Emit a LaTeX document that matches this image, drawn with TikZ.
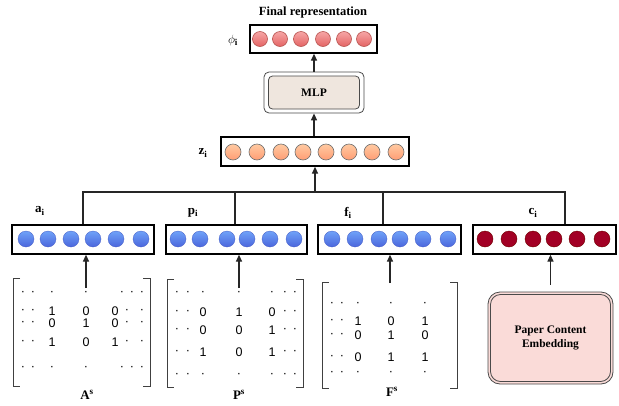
\documentclass[tikz,border=0pt]{standalone}
\usepackage{fontspec}
\setmainfont{Liberation Serif}
\newfontfamily\matfont{Liberation Sans}
\usetikzlibrary{arrows.meta}
\definecolor{phitop}{HTML}{F6A6A6}
\definecolor{phibot}{HTML}{E46464}
\definecolor{phiedge}{HTML}{B85450}
\definecolor{ztop}{HTML}{FFCAA2}
\definecolor{zbot}{HTML}{FF9D74}
\definecolor{zedge}{HTML}{6E6E6E}
\definecolor{btop}{HTML}{6FA2F8}
\definecolor{bbot}{HTML}{4B66DC}
\definecolor{cfill}{HTML}{A20025}
\definecolor{cedge}{HTML}{6F0000}
\definecolor{mlpfill}{HTML}{EFE6DE}
\definecolor{pcefill}{HTML}{FADBD8}
\definecolor{edgegrey}{HTML}{4A4A4A}
\tikzset{
  vecbox/.style={draw=black, line width=1.3pt, fill=white, inner sep=0pt},
  phic/.style={circle, inner sep=0pt, minimum size=15pt, top color=phitop, bottom color=phibot, draw=phiedge, line width=0.6pt},
  zc/.style={circle, inner sep=0pt, minimum size=16pt, top color=ztop, bottom color=zbot, draw=zedge, line width=0.6pt},
  bc/.style={circle, inner sep=0pt, minimum size=16pt, top color=btop, bottom color=bbot, draw=bbot!90!black, line width=0.3pt},
  cc/.style={circle, inner sep=0pt, minimum size=16pt, fill=cfill, draw=cedge, line width=0.4pt},
  conn/.style={line width=1.3pt, draw=black!85},
  arr/.style={line width=1.3pt, draw=black!85, -{Triangle[length=7pt,width=6pt]}},
  lab/.style={inner sep=0pt, font=\bfseries\fontsize{13}{15}\selectfont},
  brk/.style={line width=0.9pt, draw=black!75},
  ent/.style={inner sep=0pt, font=\matfont\fontsize{12.5}{14}\selectfont},
}
\begin{document}
\begin{tikzpicture}[x=1pt,y=-1pt]
\useasboundingbox (0,0) rectangle (619,405);

% title
\node[inner sep=0pt, font=\bfseries\fontsize{12.5}{14}\selectfont] (title) at (313,12) {Final representation};

% phi box
\node[vecbox, minimum width=127pt, minimum height=28pt] (phibox) at (313.5,39) {};
\node[inner sep=0pt, font=\fontsize{13}{15}\selectfont] (philab) at (233,40) {$\phi$\textsubscript{\bfseries i}};
\foreach \x [count=\k] in {260,280,301,323,344,364} \node[phic] (phi\k) at (\x,39) {};

% MLP
\node[draw=edgegrey, line width=0.8pt, rounded corners=5pt, fill=white, minimum width=100pt, minimum height=41pt, inner sep=0pt] (mlpout) at (314,92.5) {};
\node[draw=edgegrey, line width=0.8pt, rounded corners=4pt, fill=mlpfill, minimum width=91pt, minimum height=33pt, inner sep=0pt, font=\bfseries\fontsize{11.5}{13}\selectfont] (mlp) at (314,92.5) {MLP};

% z box
\node[vecbox, minimum width=188pt, minimum height=29pt] (zbox) at (315,151.5) {};
\node[lab] (zlab) at (203,153) {z\textsubscript{i}};
\foreach \x [count=\k] in {233,257,281,303,326,349,372,396} \node[zc] (z\k) at (\x,152) {};

% arrows up
\draw[arr] (zbox.north -| mlp.south) -- (mlpout.south);
\draw[arr] (mlpout.north) -- (mlpout.north |- phibox.south);

% four vector boxes
\node[vecbox, minimum width=142pt, minimum height=29pt] (abox) at (83,239.5) {};
\node[vecbox, minimum width=141pt, minimum height=29pt] (pbox) at (236.5,239.5) {};
\node[vecbox, minimum width=143pt, minimum height=29pt] (fbox) at (389.5,239.5) {};
\node[vecbox, minimum width=143pt, minimum height=29pt] (cbox) at (544.5,239.5) {};
\foreach \x [count=\k] in {26,48,71,93,116,141} \node[bc] (a\k) at (\x,239) {};
\foreach \x [count=\k] in {178,200,227,247,270,294} \node[bc] (p\k) at (\x,239) {};
\foreach \x [count=\k] in {332,355,379,400,423,448} \node[bc] (f\k) at (\x,239) {};
\foreach \x [count=\k] in {485,509,533,554,577,602} \node[cc] (c\k) at (\x,239) {};
\node[lab] (alab) at (40,211) {a\textsubscript{i}};
\node[lab] (plab) at (193,213) {p\textsubscript{i}};
\node[lab] (flab) at (348,213) {f\textsubscript{i}};
\node[lab] (clab) at (533,213) {c\textsubscript{i}};

% connectors
\coordinate (bar) at (315,192);
\draw[conn] (abox.north) |- (bar) -| ([xshift=20.5pt]cbox.north);
\draw[conn] ([xshift=-1.5pt]pbox.north) -- ([xshift=-1.5pt]pbox.north |- bar);
\draw[conn] ([xshift=-6.5pt]fbox.north) -- ([xshift=-6.5pt]fbox.north |- bar);
\draw[arr] (bar) -- (zbox.south);

% matrix A
\draw[brk] (20,278) -- (13,278) -- (13,386) -- (20,386);
\draw[brk] (143,278) -- (150,278) -- (150,386) -- (143,386);
\coordinate (Atop) at (86,288);
\draw[arr] (Atop) -- (Atop |- abox.south);
\foreach \x [count=\k] in {23,33,52,86,122,132,142} {
  \node[ent] (Ad1-\k) at (\x,293) {·};
  \node[ent] (Ad5-\k) at (\x,368) {·};
}
\foreach \y/\r/\a/\b/\c in {311/2/1/0/0, 323.5/3/0/1/0, 342/4/1/0/1} {
  \node[ent] (Al\r) at (23,\y) {·};
  \node[ent] (Am\r) at (33,\y) {·};
  \node[ent] (An\r) at (52,\y) {\a};
  \node[ent] (Ao\r) at (86,\y) {\b};
  \node[ent] (Ap\r) at (115,\y) {\c};
  \node[ent] (Aq\r) at (127,\y) {·};
  \node[ent] (Ar\r) at (142,\y) {·};
}
\node[lab] (Alab) at (87,395) {A\textsuperscript{s}};

% matrix P
\draw[brk] (174,279) -- (167,279) -- (167,387) -- (174,387);
\draw[brk] (296,279) -- (303,279) -- (303,387) -- (296,387);
\coordinate (Ptop) at (239,288);
\draw[arr] (Ptop) -- (Ptop |- pbox.south);
\foreach \x [count=\k] in {177,188,203,239,272,285,295} {
  \node[ent] (Pd1-\k) at (\x,293) {·};
  \node[ent] (Pd5-\k) at (\x,375) {·};
}
\foreach \y/\r/\a/\b/\c in {312/2/0/1/0, 330/3/0/0/1, 352/4/1/0/1} {
  \node[ent] (Pl\r) at (177,\y) {·};
  \node[ent] (Pm\r) at (188,\y) {·};
  \node[ent] (Pn\r) at (203,\y) {\a};
  \node[ent] (Po\r) at (239,\y) {\b};
  \node[ent] (Pp\r) at (272,\y) {\c};
  \node[ent] (Pq\r) at (285,\y) {·};
  \node[ent] (Pr\r) at (295,\y) {·};
}
\node[lab] (Plab) at (239,395) {P\textsuperscript{s}};

% matrix F
\draw[brk] (329,282) -- (322,282) -- (322,388) -- (329,388);
\draw[brk] (450,282) -- (457,282) -- (457,388) -- (450,388);
\coordinate (Ftop) at (390,283);
\draw[arr] (Ftop) -- (Ftop |- fbox.south);
\foreach \x [count=\k] in {332,342,358,391,425} {
  \node[ent] (Fd1-\k) at (\x,304) {·};
  \node[ent] (Fd5-\k) at (\x,373) {·};
}
\foreach \y/\r/\a/\b/\c in {321/2/1/0/1, 335/3/0/1/0, 357/4/0/1/1} {
  \node[ent] (Fl\r) at (332,\y) {·};
  \node[ent] (Fm\r) at (342,\y) {·};
  \node[ent] (Fn\r) at (358,\y) {\a};
  \node[ent] (Fo\r) at (391,\y) {\b};
  \node[ent] (Fp\r) at (425,\y) {\c};
}
\node[lab] (Flab) at (392,392) {F\textsuperscript{s}};

% paper content embedding
\node[draw=edgegrey, line width=0.8pt, rounded corners=12pt, fill=pcefill, minimum width=125pt, minimum height=92pt, inner sep=0pt] (pceout) at (550.5,338) {};
\node[draw=edgegrey, line width=0.8pt, rounded corners=10pt, minimum width=120pt, minimum height=87pt, inner sep=0pt, align=center, font=\bfseries\fontsize{11.5}{14}\selectfont] (pce) at (550.5,338) {Paper Content\\Embedding};
\draw[arr, shorten <=7pt] (pceout.north) -- (pceout.north |- cbox.south);
\end{tikzpicture}
\end{document}
